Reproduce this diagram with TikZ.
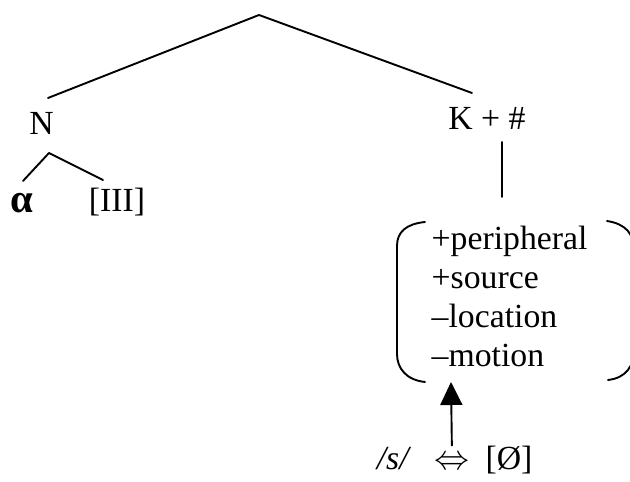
\documentclass[tikz,border=0pt]{standalone}
\usepackage{fontspec}
\setmainfont{Liberation Serif}
\usetikzlibrary{arrows.meta}

\begin{document}
\begin{tikzpicture}[x=1cm,y=1cm,line cap=round,line join=round,>=Latex]
\tikzset{lab/.style={font=\fontsize{24}{28}\selectfont,inner sep=1pt}, featlab/.style={lab,anchor=base west}, branch/.style={line width=1.35pt}, paren/.style={line width=1.35pt}}
\useasboundingbox (0,0) rectangle (15.75,12.05);

% upper tree
\coordinate (top) at (6.475,11.675);
\coordinate (lend) at (1.20,9.60);
\coordinate (rend) at (11.80,9.725);
\draw[branch] (lend)--(top)--(rend);
\node[lab,anchor=base] (N) at (1.04,8.675) {N};
\node[lab,anchor=base] (K) at (12.175,8.80) {K + \#};

% N subtree
\coordinate (nsub) at (1.225,8.225);
\coordinate (nl) at (0.575,7.525);
\coordinate (nr) at (2.575,7.55);
\draw[branch] (nl)--(nsub)--(nr);
\node[lab,anchor=base,font=\fontsize{29}{30}\selectfont\bfseries] (alpha) at (0.55,6.725) {α};
\node[lab,anchor=base] (three) at (2.925,6.75) {[III]};

% feature matrix
\draw[branch] (12.55,8.50)--(12.55,7.125);
\node[featlab] (f1) at (10.75,5.80) {+peripheral};
\node[featlab] (f2) at (10.75,4.825) {+source};
\node[featlab] (f3) at (10.75,3.85) {\textendash location};
\node[featlab] (f4) at (10.75,2.875) {\textendash motion};
\draw[paren] (10.625,6.50) .. controls (10.15,6.45) and (9.925,6.25) .. (9.925,5.90) -- (9.925,3.20) .. controls (9.925,2.85) and (10.15,2.55) .. (10.625,2.50);
\draw[paren] (15.175,6.525) .. controls (15.65,6.45) and (15.85,6.20) .. (15.85,5.80) -- (15.85,3.30) .. controls (15.85,2.90) and (15.65,2.60) .. (15.20,2.55);
\coordinate (brk) at (11.275,2.50);

% realisation
\node[lab,anchor=base] (phon) at (9.85,0.30) {\textit{/s/}};
\node[lab,anchor=base,font=\fontsize{27}{28}\selectfont] (bicond) at (11.30,0.30) {$\Leftrightarrow$};
\node[lab,anchor=base] (zero) at (12.725,0.30) {[Ø]};
\draw[line width=1.35pt,shorten <=0.25cm,-{Triangle[length=0.575cm,width=0.55cm]}] (bicond.north) -- (brk);
\end{tikzpicture}
\end{document}
